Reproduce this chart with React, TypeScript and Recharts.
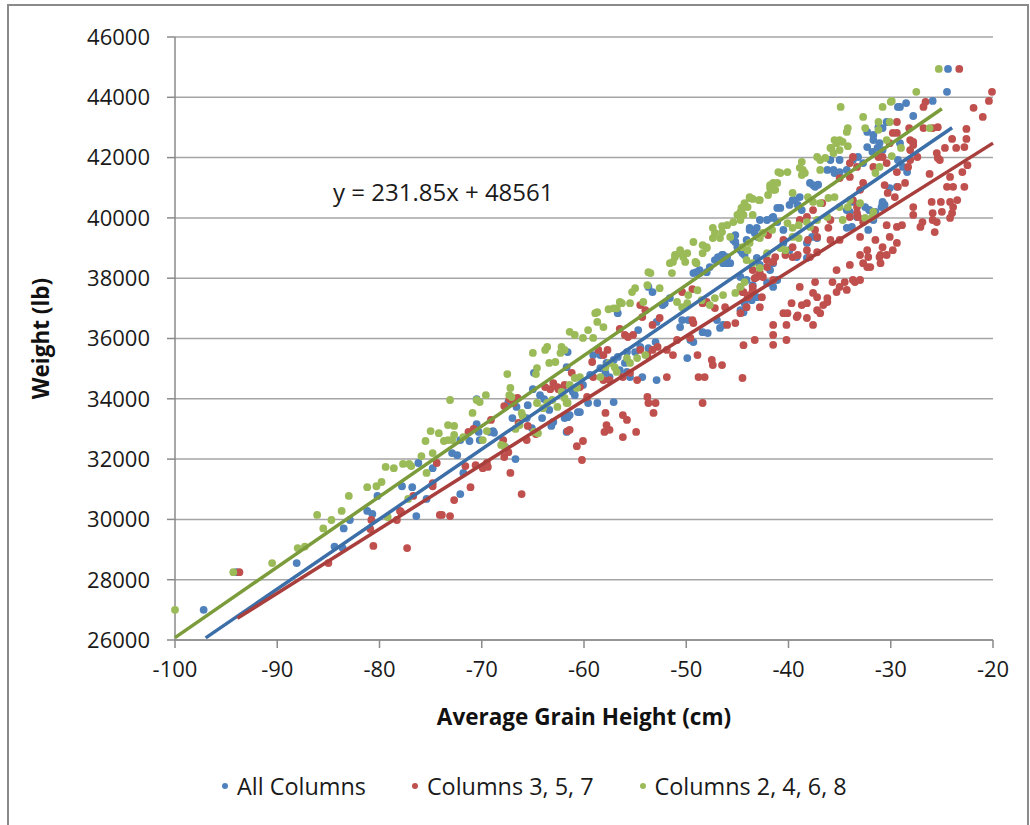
import { ScatterChart, Scatter, XAxis, YAxis, CartesianGrid, Legend, Label } from 'recharts'

// [average grain height (cm), weight (lb)]
const allColumns: [number, number][] = [
  [-97.2,27000],[-94.0,28250],[-88.1,28550],[-84.4,29100],[-83.6,29050],[-83.5,29700],[-82.9,29980],[-81.2,30280],[-80.7,30180],[-80.2,30780],
  [-77.8,31100],[-76.8,31070],[-76.4,30110],[-76.2,31870],[-75.4,30680],[-74.8,31700],[-72.9,32200],[-72.4,32130],[-71.8,31540],[-72.1,30840],
  [-72.1,32630],[-71.2,32600],[-70.5,33160],[-70.3,32900],[-70.2,32630],[-70.5,33990],[-68.9,32930],[-68.8,32870],[-69.2,32900],[-67.7,32400],
  [-66.7,32000],[-67.4,33890],[-66.6,33730],[-67,33360],[-65.6,33360],[-65.1,33030],[-65.5,33790],[-64.9,34860],[-61.6,35550],[-61.7,35050],
  [-65,34320],[-64.3,34120],[-63.9,33990],[-63.4,33630],[-64.1,33360],[-63.2,33100],[-63,33230],[-61.9,33360],[-61.6,33390],[-61.7,32900],
  [-60.6,33560],[-57.1,33890],[-58.7,33860],[-59.6,33860],[-60.4,33560],[-61.4,33460],[-62.1,34360],[-60.6,34390],[-61.1,34230],[-60.9,34120],
  [-60.1,34460],[-59.4,34790],[-58.4,35020],[-59.1,35450],[-58.4,35450],[-57.8,35190],[-57.1,35290],[-56.7,35390],[-56.5,34950],[-55.8,34890],
  [-56,35190],[-57.9,34860],[-57.5,34720],[-55.5,34720],[-54.3,34720],[-52.9,34620],[-55.8,35550],[-55,35550],[-54.5,35720],[-53.7,35680],
  [-53,35880],[-56.7,36840],[-54.7,36280],[-52.9,36550],[-53.3,37540],[-53.7,37710],[-52.3,37110],[-52.1,37170],[-51.6,37340],[-50.6,36380],
  [-49.6,35950],[-49.9,35350],[-49.3,35880],[-50.4,36610],[-49.8,36610],[-48.4,36210],[-47.9,36180],[-46.7,36350],[-47,36610],[-46.4,36450],
  [-49,38200],[-48.7,38170],[-48,38200],[-47,38600],[-46,38500],[-46.4,38770],[-45.2,39200],[-44.7,38930],[-44.7,36940],[-44.4,36870],
  [-44.3,37170],[-43.6,37270],[-43.1,37370],[-44.7,38040],[-44.1,37940],[-43.5,37770],[-42.1,37840],[-41.5,37710],[-41.1,37940],[-44.6,38930],
  [-44.3,38770],[-43.1,38670],[-42.8,38440],[-41.8,38270],[-41.5,38500],[-39.9,38930],[-39.2,38700],[-38.2,38670],[-42.1,39930],[-41.6,40000],
  [-41.1,39860],[-43.8,39600],[-43.3,39500],[-44.1,39270],[-40.5,39600],[-40.5,39170],[-38.2,39170],[-37.7,39370],[-37.2,39330],[-34.3,39670],
  [-33.8,39700],[-32.2,39600],[-31.7,39930],[-37.9,41160],[-37.4,41030],[-37.1,41100],[-39.6,40590],[-39.9,40430],[-39.1,40430],[-38.7,40260],
  [-34.3,40260],[-34,40200],[-33.7,40530],[-33.3,40030],[-32.5,40360],[-32.1,40260],[-31.5,40200],[-30.8,40530],[-30.6,40430],[-35.9,41920],
  [-35.5,41490],[-35,41520],[-33.2,42020],[-32.3,42350],[-31.8,42190],[-31.3,42320],[-30.8,42250],[-41.1,40330],[-41.5,40030],[-42.8,39930],
  [-43.8,39670],[-43.1,39670],[-43,39370],[-45.4,39270],[-45,39030],[-44.5,38830],[-46.9,38700],[-46.5,38770],[-46,38700],[-47.2,38600],
  [-46.4,38500],[-45.7,38500],[-37.6,41090],[-38.9,40690],[-39.4,40590],[-40.8,40330],[-45.2,39430],[-47.7,38370],[-48.7,38270],[-49.3,38170],
  [-30.4,43180],[-31.2,43010],[-32.3,42850],[-31.7,42750],[-31.7,42580],[-31.1,42480],[-33.7,41920],[-32.7,41820],[-35,41920],[-35.6,41590],
  [-36.2,41590],[-34.3,41590],[-29.3,43680],[-29.1,43680],[-28.5,43810],[-27.8,43380],[-25.9,43880],[-30.8,42980],[-29.1,42480],[-29.3,41920],
  [-28.8,41690],[-28.4,41520],[-29.4,41030],[-30.1,40990],[-30.8,40490],[-30.9,40360],[-32.1,40260],[-24.5,44180],[-24.4,44940],
]

const columns357: [number, number][] = [
  [-93.7,28250],[-85,28550],[-80.8,29980],[-80.9,29680],[-80.6,29120],[-77.3,29050],[-78,30280],[-76.7,30780],[-74.8,31100],[-74.1,30150],
  [-74.4,31870],[-74.8,31200],[-77.9,30250],[-78.3,29980],[-73.9,30150],[-73.1,30110],[-72.7,30640],[-71.1,31070],[-70.6,31800],[-69.9,31700],
  [-69.4,31740],[-69.5,31870],[-71.6,31770],[-71.3,32900],[-70.8,33000],[-69.1,33300],[-67.9,32630],[-67.8,32070],[-67.4,32230],[-67.2,31540],
  [-66.1,30840],[-67.8,33760],[-67.3,33990],[-66.9,33860],[-66.5,34030],[-66.4,33200],[-65.5,33100],[-65.6,32630],[-64.7,32830],[-63.8,34390],
  [-63.3,34320],[-63,34520],[-62.6,34390],[-62.5,34320],[-61.9,34460],[-61.2,34860],[-61.6,32930],[-60.7,32430],[-60.2,31970],[-60.1,32600],
  [-57.8,33130],[-58,32900],[-57.5,32970],[-56.2,33460],[-55.8,33300],[-54.9,32900],[-56.2,32730],[-57.9,33530],[-61.4,32970],[-53.8,34060],
  [-53.7,33860],[-53,33860],[-53.2,33530],[-59.7,34060],[-60.4,34390],[-59.2,35220],[-59.1,34720],[-58.6,35620],[-58.1,35450],[-57.7,35620],
  [-58.1,34620],[-57.5,34620],[-56.2,34720],[-55.5,34860],[-54.8,34620],[-56.5,36320],[-56,36120],[-55.7,36050],[-55.2,36120],[-54.5,35620],
  [-53.8,35450],[-53.3,35620],[-52.8,35720],[-51.9,35620],[-54.5,37110],[-54,36940],[-54.3,36710],[-53.3,36450],[-52.6,36680],[-51.9,34720],
  [-51.3,35450],[-50.9,35950],[-49.6,36020],[-48.9,35450],[-48.8,34720],[-48.2,34720],[-47.5,35290],[-47.4,35120],[-46.5,35120],[-48.4,33860],
  [-44.5,34690],[-44.4,35780],[-43.3,35950],[-50.4,37540],[-49.4,37640],[-49.4,36610],[-49.3,36510],[-48.4,37170],[-48,37210],[-47.2,37010],
  [-46.2,37040],[-46,36450],[-45.2,36510],[-44.5,37540],[-43.8,37440],[-43.5,37600],[-43.1,38040],[-42,39430],[-42.1,38600],[-41.3,38700],
  [-44.7,37710],[-44.4,37540],[-43.5,37710],[-44,37370],[-42.6,37370],[-44.1,37040],[-42.8,37040],[-44.7,36840],[-40.5,39270],[-39.6,39030],
  [-39.1,38770],[-38.2,38930],[-39.6,38700],[-40.3,38770],[-37.9,38700],[-37.2,38860],[-41.5,38540],[-42.1,38370],[-42.8,38170],[-43.5,38270],
  [-43.3,38000],[-42.5,38040],[-41.5,37940],[-36.7,40490],[-37.6,40260],[-38.2,40030],[-38.9,39930],[-37.4,39600],[-37.2,39370],[-35.9,39930],
  [-36.1,39670],[-38.1,39270],[-35.9,39270],[-35,39270],[-32.7,39860],[-33,39370],[-35,41320],[-34,41360],[-33,40930],[-32.7,41160],
  [-33.7,40590],[-33.3,40360],[-33.3,40160],[-34,40030],[-33.2,40030],[-33.7,42020],[-34,41820],[-33.3,41690],[-31.7,41690],[-31.2,42020],
  [-30.8,42020],[-30.4,41820],[-35.3,38270],[-34,38440],[-34.5,37870],[-33.5,37870],[-35,37710],[-34.3,37610],[-35.3,37540],[-37.4,37870],
  [-37.2,37370],[-36.2,37210],[-36.6,37110],[-38.2,37170],[-38.7,37110],[-39.7,37170],[-38.9,37710],[-40.5,36840],[-40.1,36840],[-39.1,36770],
  [-37.2,36940],[-36.9,36840],[-37.6,36450],[-40.2,36450],[-41.5,36450],[-41.5,36120],[-40.2,35950],[-41.5,35790],[-32.3,38930],[-33,38770],
  [-32.2,38700],[-32.7,38500],[-32.3,38370],[-31,38770],[-30.8,39030],[-31.5,39270],[-31,38500],[-30.4,38770],[-33,37940],[-33.7,37940],
  [-32,38370],[-31.1,38700],[-29.8,38930],[-30.1,39370],[-29.4,39170],[-28.9,39760],[-29.4,39700],[-30.4,39760],[-27.1,39700],[-25.7,39530],
  [-25.5,39860],[-25.9,39930],[-26.9,39860],[-27.8,40100],[-27.8,40360],[-25.9,40160],[-25,40200],[-24,40160],[-23.9,40360],[-24.2,40530],
  [-26,40530],[-25.1,40530],[-22.8,41030],[-23.9,41030],[-24.5,41030],[-26.2,41460],[-24.2,41360],[-23,41520],[-22.5,41750],[-25.2,41920],
  [-25.4,41990],[-25.5,42150],[-24.7,42320],[-22.8,42350],[-23.6,42320],[-24,42620],[-22.6,42620],[-22.6,42950],[-25.4,43010],[-25.9,42980],
  [-26.8,42980],[-28.2,42980],[-29.4,43180],[-26.8,43680],[-26.6,43850],[-21,43350],[-21.9,43650],[-20.4,43880],[-20.1,44180],[-23.3,44940],
  [-27.8,42520],[-28.1,42250],[-27.4,42020],[-28.1,41920],[-28.3,41690],[-29.4,41520],[-29.3,41030],[-28.6,41160],[-30.3,40830],[-30.6,41090],
  [-29.6,40690],[-29.8,42820],[-29.4,42820],[-30.1,42480],[-28.1,42580],[-27.8,42420],[-23.5,40590],[-24.2,40000],[-35.7,37870],[-37.6,37510],
  [-36.2,37340],[-39.2,36710],[-38.2,36680],
]

const columns2468: [number, number][] = [
  [-100,27000],[-94.3,28250],[-90.5,28550],[-88,29050],[-87.3,29100],[-86.1,30150],[-85.5,29700],[-84.7,29980],[-83.7,30280],[-83,30780],
  [-81.2,31070],[-80.3,31100],[-79.8,31240],[-79.4,31740],[-79.2,30080],[-77.2,30680],[-78.6,31700],[-77.7,31840],[-77.1,31840],[-76.9,31770],
  [-75.9,32100],[-75.5,32600],[-75,32930],[-74.2,32860],[-74.8,32200],[-75.4,31540],[-73.7,32600],[-73.3,32630],[-72.9,32630],[-72.7,32800],
  [-72.7,33100],[-73.3,33130],[-73.1,33960],[-71.8,32730],[-70.9,33530],[-70.2,33890],[-70.5,33960],[-69.6,34120],[-69.9,32630],[-69.5,32930],
  [-68.1,32470],[-67.8,32430],[-67.5,34820],[-67.2,34360],[-67.3,34120],[-67.1,34060],[-66.7,33000],[-66.3,33130],[-66.1,33530],[-66,33430],
  [-64.9,32900],[-64.5,32860],[-65,35520],[-64.6,35020],[-64.7,34820],[-63.8,35620],[-63.6,35720],[-63.4,35190],[-62.8,35220],[-62.3,35520],
  [-62.2,35720],[-61.9,35620],[-64.6,33860],[-64,33690],[-63.6,33860],[-63.1,33960],[-62.6,33730],[-61.9,34030],[-61.6,33860],[-60.9,34690],
  [-60.7,34360],[-61.4,34460],[-61.4,36220],[-60.9,36120],[-60.1,36020],[-59.6,36280],[-59.1,36020],[-58.7,36550],[-58.1,36380],[-58.9,36840],
  [-58.7,36870],[-57.6,36970],[-57.1,37000],[-56.8,37000],[-56.3,37170],[-56.5,37210],[-55.5,37170],[-55.3,37540],[-55,37670],[-54.2,37210],
  [-53.8,37770],[-53.5,38170],[-53.7,38200],[-52.6,37670],[-51.6,38500],[-51.4,38170],[-51.1,38700],[-50.6,38830],[-49.9,38830],[-50.3,38770],
  [-49.3,39200],[-49,38500],[-48.4,38830],[-48,39030],[-50.9,37210],[-50.4,37040],[-49.9,37170],[-49.8,37440],[-48.9,37600],[-48.5,37270],
  [-47.7,37110],[-47.2,37340],[-46.4,37440],[-58.4,34720],[-57.9,35050],[-57.5,35190],[-57,35050],[-56.8,34890],[-55.8,35350],[-55.5,35190],
  [-54.8,35350],[-54,35450],[-61.7,33860],[-62.2,34230],[-60.7,34390],[-60.4,34720],[-44.7,37710],[-45.2,37510],[-44.3,37870],[-44.1,38600],
  [-44,38930],[-41,41520],[-41.8,41090],[-41.3,40930],[-42,40760],[-42.8,40590],[-43.8,40690],[-43.5,40630],[-44,40360],[-44.5,40330],
  [-44.7,40200],[-45,40100],[-44.4,40100],[-44.7,39930],[-45.4,39860],[-46,39760],[-46.5,39730],[-47.4,39670],[-47.2,39500],[-46.5,39530],
  [-47.4,39330],[-46.7,39330],[-45.7,39370],[-48.4,39100],[-48,39000],[-50.6,38930],[-51.1,38770],[-50.3,38700],[-51.3,38540],[-50.1,38540],
  [-49.1,38540],[-42.8,39330],[-43.8,39170],[-44.5,39030],[-42.5,39500],[-41.6,39600],[-40.1,39830],[-39.6,39670],[-39,39760],[-38.2,39860],
  [-37.9,39700],[-37.2,39930],[-36.2,40030],[-42.1,38830],[-40.8,39000],[-40.3,38930],[-43.5,38500],[-42.8,38340],[-39.6,39370],[-39,39330],
  [-39.6,40830],[-38.1,40690],[-37.6,40530],[-36.9,40490],[-36.1,40660],[-35.5,40690],[-35,40360],[-34.2,40360],[-34,40590],[-33,40490],
  [-34.7,39930],[-32.5,40000],[-31.8,40030],[-31.7,40200],[-37.2,42020],[-36.9,41920],[-36.4,41990],[-38.7,41860],[-38.9,41660],[-38.4,41490],
  [-40.8,41490],[-40.1,41520],[-41.5,41160],[-41.1,41160],[-41.8,40990],[-41.5,40930],[-43.8,40660],[-44.3,40490],[-42.9,40590],[-43.5,40100],
  [-44.6,40330],[-35.9,42320],[-35.3,42480],[-35,42250],[-34.2,42380],[-35.6,42150],[-35.5,42580],[-35,42580],[-34.7,42520],[-35.8,42320],
  [-36.9,41590],[-38.6,41590],[-38.7,41420],[-34.9,43680],[-32.7,43350],[-30.8,43680],[-30,43850],[-27.5,44180],[-34.2,42980],[-34.3,42850],
  [-32.5,42980],[-31.2,43180],[-31.2,42920],[-30.4,42580],[-29.9,43880],[-30.1,43180],[-26.2,42980],[-29,42320],[-31.1,41690],[-31.5,41490],
  [-29.9,42050],[-25.3,44940],
]

// trendline end points
const trendAll: [number, number][] = [[-97, 26070], [-24, 42990]]
const trend357: [number, number][] = [[-93.9, 26720], [-20, 42480]]
const trend2468: [number, number][] = [[-100, 26080], [-25, 43620]]

const xTicks = [-100, -90, -80, -70, -60, -50, -40, -30, -20]
const yTicks = [26000, 28000, 30000, 32000, 34000, 36000, 38000, 40000, 42000, 44000, 46000]
const equation = 'y = 231.85x + 48561'

const SERIES = [
  { name: 'All Columns', data: allColumns, trend: trendAll, color: '#4f81bd', line: '#3c6ea8' },
  { name: 'Columns 3, 5, 7', data: columns357, trend: trend357, color: '#c0504d', line: '#a83f3c' },
  { name: 'Columns 2, 4, 6, 8', data: columns2468, trend: trend2468, color: '#9bbb59', line: '#7c9c3c' },
]

const FONT = '"Open Sans", "Liberation Sans", sans-serif'
const toPts = (arr: [number, number][]) => arr.map(([x, y]) => ({ x, y }))

const Dot = (color: string) => (p: any) => <circle cx={p.cx} cy={p.cy} r={3.9} fill={color} />

const LegendBox = () => (
  <div style={{ display: 'flex', paddingLeft: 222, fontFamily: FONT, fontSize: 23.4, color: '#1a1a1a' }}>
    {SERIES.map((s) => (
      <div key={s.name} style={{ display: 'flex', alignItems: 'center', marginRight: 46 }}>
        <span style={{ width: 6, height: 6, borderRadius: 3, background: s.color, marginRight: 9 }} />
        <span>{s.name}</span>
      </div>
    ))}
  </div>
)

export default function App() {
  return (
    <div style={{ position: 'absolute', left: 0, top: 0, width: 1030, height: 825, background: '#fff', overflow: 'hidden' }}>
      <div style={{ position: 'absolute', left: 7, top: 4, width: 1018, height: 830, border: '2px solid #8a8a8a' }} />
      <ScatterChart width={1030} height={825} margin={{ top: 37, right: 37, left: 0, bottom: 95 }}>
        <CartesianGrid vertical={false} stroke="#a5a5a5" strokeWidth={1.5} />
        <XAxis
          type="number"
          dataKey="x"
          domain={[-100, -20]}
          ticks={xTicks}
          height={90}
          tickSize={8}
          tickMargin={13}
          tick={{ fontSize: 22, fill: '#1a1a1a', fontFamily: FONT }}
          axisLine={{ stroke: '#8a8a8a', strokeWidth: 1.5 }}
          tickLine={{ stroke: '#8a8a8a', strokeWidth: 1.5 }}
        >
          <Label
            content={(props: any) => {
              const vb = props.viewBox
              return (
                <text x={vb.x + vb.width / 2} y={vb.y + 76} textAnchor="middle" dominantBaseline="central"
                  style={{ fontFamily: FONT, fontSize: 22.5, fontWeight: 700, fill: '#111' }}>
                  Average Grain Height (cm)
                </text>
              )
            }}
          />
        </XAxis>
        <YAxis
          type="number"
          dataKey="y"
          domain={[26000, 46000]}
          ticks={yTicks}
          width={175}
          tickSize={8}
          tickMargin={17}
          tick={{ fontSize: 22, fill: '#1a1a1a', fontFamily: FONT }}
          axisLine={{ stroke: '#8a8a8a', strokeWidth: 1.5 }}
          tickLine={{ stroke: '#8a8a8a', strokeWidth: 1.5 }}
        >
          <Label
            content={(props: any) => {
              const vb = props.viewBox
              const cy = vb.y + vb.height / 2
              return (
                <text x={40} y={cy} textAnchor="middle" dominantBaseline="central" transform={`rotate(-90, 40, ${cy})`}
                  style={{ fontFamily: FONT, fontSize: 22.5, fontWeight: 700, fill: '#111' }}>
                  Weight (lb)
                </text>
              )
            }}
          />
        </YAxis>
        <Legend verticalAlign="middle" layout="horizontal" content={() => <LegendBox />}
          wrapperStyle={{ top: 770, left: 0, width: 1030 }} />
        {SERIES.map((s) => (
          <Scatter key={s.name} name={s.name} data={toPts(s.data)} shape={Dot(s.color)} isAnimationActive={false} />
        ))}
        {SERIES.map((s) => (
          <Scatter key={s.name + ' trend'} name={s.name + ' trend'} data={toPts(s.trend)} legendType="none"
            line={{ stroke: s.line, strokeWidth: 3.5 }} shape={() => <g />} isAnimationActive={false} />
        ))}
      </ScatterChart>
      <div style={{ position: 'absolute', left: 333, top: 175, fontFamily: FONT, fontSize: 24, color: '#1a1a1a', whiteSpace: 'pre' }}>
        {equation}
      </div>
    </div>
  )
}
